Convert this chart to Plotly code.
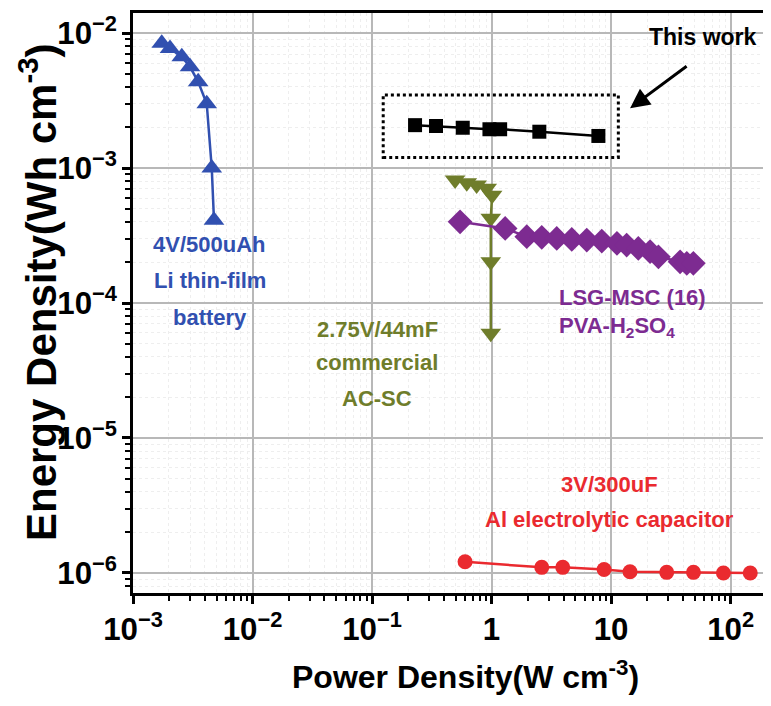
import numpy as np
import plotly.graph_objects as go

# ---- data ----
li_power = [1.74e-3, 2.04e-3, 2.56e-3, 3.0e-3, 3.51e-3, 4.14e-3, 4.56e-3, 4.76e-3]
li_energy = [8.4e-3, 7.7e-3, 6.67e-3, 5.63e-3, 4.36e-3, 3.0e-3, 1.0e-3, 4.1e-4]

this_power = [0.229, 0.343, 0.574, 0.96, 1.18, 2.51, 7.83]
this_energy = [2.08e-3, 2.05e-3, 1.99e-3, 1.94e-3, 1.94e-3, 1.86e-3, 1.73e-3]

ac_power = [0.495, 0.62, 0.75, 0.91, 1.01, 0.985, 0.985, 0.985]
ac_energy = [8.15e-4, 7.78e-4, 7.48e-4, 7.08e-4, 6.3e-4, 4.24e-4, 2.02e-4, 5.97e-5]

lsg_power = [0.545, 1.30, 1.97, 2.63, 3.51, 4.69, 6.26, 8.36, 11.2, 13.5, 16.9, 21.2, 24.9, 37.8, 43.0, 48.8]
lsg_energy = [4.0e-4, 3.57e-4, 3.10e-4, 3.07e-4, 3.01e-4, 2.96e-4, 2.93e-4, 2.88e-4, 2.77e-4, 2.69e-4,
              2.54e-4, 2.40e-4, 2.20e-4, 2.02e-4, 1.97e-4, 1.97e-4]

al_power = [0.60, 2.63, 3.94, 8.74, 14.4, 29.2, 48.9, 87.1, 146]
al_energy = [1.21e-6, 1.10e-6, 1.10e-6, 1.06e-6, 1.02e-6, 1.01e-6, 1.01e-6, 1.0e-6, 1.0e-6]

x_range = [1e-3, 194]
y_range = [7.1e-7, 1.41e-2]

x_title = "Power Density(W cm<sup>-3</sup>)"
y_title = "Energy Density(Wh cm<sup>-3</sup>)"

BLUE = "#3150b0"
BLACK = "#000000"
OLIVE = "#6f7d2b"
PURPLE = "#7d2b91"
RED = "#ea2a2f"

FONT = "Liberation Sans, Arial, sans-serif"

fig = go.Figure()

def add(xs, ys, color, symbol, size):
    fig.add_trace(go.Scatter(x=xs, y=ys, mode="lines+markers",
                             line=dict(color=color, width=2.5),
                             marker=dict(symbol=symbol, size=size, color=color),
                             showlegend=False))

add(li_power, li_energy, BLUE, "triangle-up", 18)
add(this_power, this_energy, BLACK, "square", 14)
add(ac_power, ac_energy, OLIVE, "triangle-down", 18)
add(lsg_power, lsg_energy, PURPLE, "diamond", 19)
add(al_power, al_energy, RED, "circle", 15)

axis_common = dict(
    type="log", dtick=1, exponentformat="power", showexponent="all",
    showline=True, linecolor="black", linewidth=3, mirror=True,
    ticks="outside", ticklen=8, tickwidth=2.5, tickcolor="black",
    showgrid=True, gridcolor="#b8b8b8", gridwidth=2,
    zeroline=False, automargin=False,
    tickfont=dict(family=FONT, size=25, color="black", weight="bold"),
    minor=dict(dtick="D1", ticks="outside", ticklen=5, tickwidth=2, tickcolor="black",
               showgrid=True, gridcolor="#eeeeee", gridwidth=1, griddash="dot"),
)

fig.update_xaxes(**axis_common, range=[np.log10(x_range[0]), np.log10(x_range[1])])
fig.update_yaxes(**axis_common, range=[np.log10(y_range[0]), np.log10(y_range[1])])

# axis titles as annotations for precise placement
fig.add_annotation(text=x_title, xref="paper", yref="paper", x=0.5, y=0, xshift=16, yshift=-82,
                   showarrow=False, xanchor="center", yanchor="middle", borderpad=0,
                   font=dict(family=FONT, size=32, color="black", weight="bold"))
fig.add_annotation(text=y_title, xref="paper", yref="paper", x=0, y=0.5, xshift=-95, yshift=11,
                   showarrow=False, xanchor="center", yanchor="middle", textangle=-90, borderpad=0,
                   font=dict(family=FONT, size=42, color="black", weight="bold"))

# dotted box around "This work"
fig.add_shape(type="rect", xref="x", yref="y", x0=0.124, x1=11.5, y0=1.2e-3, y1=3.48e-3,
              line=dict(color="black", width=3, dash="dot"))

def label(text, x, y, color, xanchor="center", size=22):
    fig.add_annotation(x=np.log10(x), y=np.log10(y), xref="x", yref="y", text=text,
                       showarrow=False, xanchor=xanchor, yanchor="middle",
                       font=dict(family=FONT, size=size, color=color, weight="bold"))

for t, yy in zip(["4V/500uAh", "Li thin-film", "battery"], [10**-3.563, 10**-3.830, 10**-4.104]):
    label(t, 10**-2.356, yy, BLUE)
for t, yy in zip(["2.75V/44mF", "commercial", "AC-SC"], [10**-4.193, 10**-4.437, 10**-4.704]):
    label(t, 10**-0.958, yy, OLIVE)
for t, yy in zip(["LSG-MSC (16)", "PVA-H<sub>2</sub>SO<sub>4</sub>"], [10**-3.956, 10**-4.178]):
    label(t, 10**0.548, yy, PURPLE, xanchor="left")
for t, yy in zip(["3V/300uF", "Al electrolytic capacitor"], [10**-5.348, 10**-5.607]):
    label(t, 10**0.983, yy, RED)

label("This work", 10**1.770, 10**-2.03, BLACK, size=23)

fig.add_annotation(x=1.159, y=-2.556, xref="x", yref="y", ax=58, ay=-43, text="",
                   showarrow=True, arrowhead=2, arrowsize=1.3, arrowwidth=3, arrowcolor="black")

# page body has an 8px default margin, so the figure is sized to fit the window
fig.update_layout(width=763, height=698, margin=dict(l=125, r=6, t=5, b=113),
                  plot_bgcolor="white", paper_bgcolor="white")

fig.write_html("out.html")
